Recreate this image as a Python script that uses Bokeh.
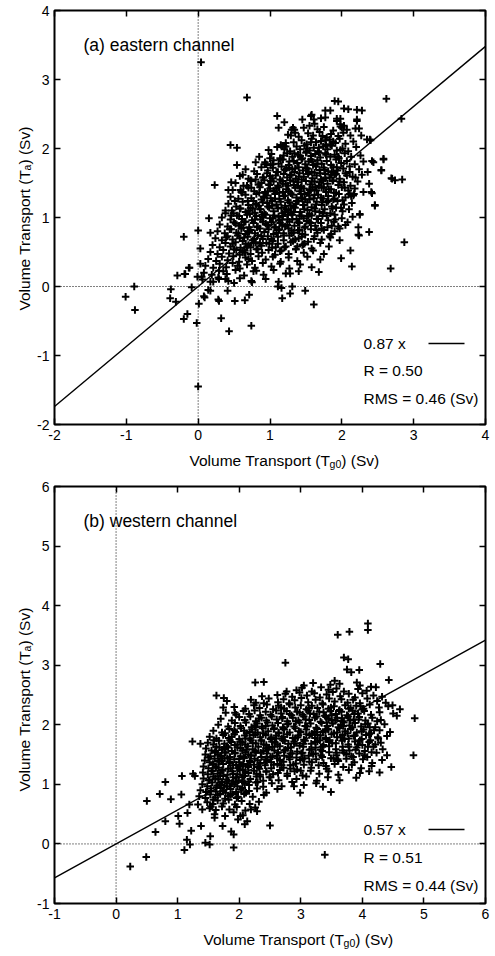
from bokeh.plotting import figure
from bokeh.models import Range1d, LinearAxis, Span, Label, FixedTicker
from bokeh.layouts import column, row
from bokeh.embed import file_html
from bokeh.resources import INLINE

FONT = "Liberation Sans"

# ---------------- data ----------------
panel_titles = ["(a) eastern channel", "(b) western channel"]
fit_slopes = [0.87, 0.57]
fit_r = [0.50, 0.51]
fit_rms = [0.46, 0.44]
x_ticks_a = [-2, -1, 0, 1, 2, 3, 4]
y_ticks_a = [-2, -1, 0, 1, 2, 3, 4]
x_ticks_b = [-1, 0, 1, 2, 3, 4, 5, 6]
y_ticks_b = [-1, 0, 1, 2, 3, 4, 5, 6]

east_outliers = [
    (0.04, 3.25), (0.68, 2.74), (2.62, 2.72), (2.83, 2.43), (1.95, 2.68), (1.84, 2.55), (2.09, 2.57),
    (2.28, 2.55), (1.10, 2.47), (1.12, 2.30), (1.32, 2.30), (1.57, 2.47), (0.45, 2.05), (0.54, 2.01),
    (0.54, 1.76), (0.23, 1.47), (0.46, 1.51), (0.42, 1.40), (0.15, 0.99), (-0.20, 0.72), (0.00, 0.81),
    (0.03, 0.55), (-0.29, 0.16), (-0.13, 0.27), (-0.19, 0.18), (-0.38, -0.04), (-0.39, -0.17), (-0.31, -0.22),
    (-0.89, 0.00), (-1.01, -0.15), (-0.88, -0.34), (-0.20, -0.47), (-0.15, -0.40), (-0.02, -0.53), (0.00, -1.45),
    (0.01, -0.25), (0.08, -0.14), (0.32, -0.46), (0.43, -0.65), (0.29, -0.21), (0.51, -0.21), (0.65, -0.20),
    (0.71, -0.12), (0.74, -0.57), (1.17, -0.17), (1.28, -0.10), (1.31, 0.00), (1.49, -0.06), (1.61, -0.26),
    (1.16, -0.02), (1.11, 0.00), (0.41, -0.06), (0.17, -0.06), (0.21, 0.07), (2.14, 0.29), (1.99, 0.41),
    (2.12, 0.52), (2.68, 0.26), (2.87, 0.64), (2.38, 0.79), (2.24, 0.74), (2.25, 1.05), (2.46, 1.18),
    (2.23, 0.86), (2.70, 1.56), (2.74, 1.54), (2.84, 1.55), (2.55, 1.68), (2.58, 1.84), (2.42, 1.82),
    (2.44, 1.80), (2.38, 1.49), (2.42, 1.35), (2.36, 1.66), (2.40, 2.12), (2.27, 2.19), (2.19, 2.29),
    (1.68, 0.21), (1.28, 0.19), (0.93, 1.80), (1.04, 1.77), (1.17, 2.04), (1.20, 2.03), (1.22, 2.03),
    (1.29, 2.19), (1.34, 2.27), (0.38, 1.06), (0.47, 1.10), (0.59, 1.40), (0.68, 1.46), (0.80, 1.55),
    (0.17, 0.78), (1.90, 2.69), (2.03, 2.58), (2.21, 2.56), (1.77, 2.55), (1.77, 2.45), (1.58, 2.49),
    (1.61, 2.42), (1.93, 2.43), (1.98, 2.43), (2.21, 2.42), (1.98, 2.32), (2.03, 2.33), (2.24, 2.29),
    (2.35, 2.13), (2.39, 2.13), (2.58, 1.85), (2.55, 1.69), (2.69, 1.57), (2.30, 1.37), (2.41, 1.37),
    (2.46, 1.17), (2.17, 1.34), (2.11, 1.34), (2.25, 1.04), (2.23, 0.75), (-0.12, 0.27), (-0.09, -0.01),
    (-0.01, 0.14), (0.05, 0.14), (0.14, -0.05), (0.28, -0.19), (0.74, 0.08), (0.81, 0.23), (0.29, 0.11),
    (0.38, 0.11), (0.03, 0.33), (-0.18, 0.18), (0.09, -0.16),
]

east_core = [
    (1.20, 2.38), (1.45, 2.42), (1.62, 2.36), (1.71, 2.44), (1.93, 2.40), (1.98, 2.35), (2.21, 2.40),
    (1.30, 2.27), (1.55, 2.33), (1.66, 2.28), (1.75, 2.31), (1.88, 2.26), (2.00, 2.30), (2.07, 2.27), (1.47, 2.30),
    (1.25, 2.20), (1.40, 2.17), (1.53, 2.22), (1.60, 2.19), (1.69, 2.24), (1.79, 2.16), (1.85, 2.21), (1.95, 2.18),
    (2.02, 2.23), (2.12, 2.19), (1.35, 2.23), (1.73, 2.18),
    (1.15, 2.05), (1.22, 2.08), (1.44, 2.12), (1.51, 2.06), (1.58, 2.14), (1.64, 2.09), (1.71, 2.11), (1.78, 2.05),
    (1.83, 2.13), (1.91, 2.08), (1.97, 2.14), (2.05, 2.07), (2.16, 2.10), (1.33, 2.09), (1.88, 2.10),
    (0.98, 1.98), (1.10, 2.02), (1.28, 1.96), (1.37, 2.03), (1.42, 1.99), (1.48, 2.04), (1.55, 1.97), (1.61, 2.01),
    (1.67, 1.96), (1.74, 2.03), (1.80, 1.99), (1.86, 2.04), (1.93, 1.97), (2.01, 2.00), (2.09, 1.96), (2.20, 2.02),
    (1.20, 1.99), (1.52, 2.00),
    (0.85, 1.88), (1.02, 1.92), (1.14, 1.86), (1.24, 1.93), (1.31, 1.88), (1.39, 1.91), (1.45, 1.86), (1.50, 1.94),
    (1.57, 1.89), (1.63, 1.92), (1.70, 1.87), (1.77, 1.93), (1.84, 1.88), (1.90, 1.91), (1.96, 1.86), (2.04, 1.93),
    (2.13, 1.88), (2.26, 1.90), (1.19, 1.90), (1.68, 1.94),
    (0.80, 1.80), (0.93, 1.77), (1.05, 1.83), (1.12, 1.78), (1.18, 1.84), (1.26, 1.76), (1.33, 1.82), (1.38, 1.79),
    (1.44, 1.84), (1.49, 1.77), (1.54, 1.81), (1.60, 1.76), (1.66, 1.83), (1.72, 1.78), (1.79, 1.82), (1.85, 1.76),
    (1.92, 1.84), (1.99, 1.79), (2.07, 1.82), (2.18, 1.77), (2.30, 1.81), (1.01, 1.76), (1.57, 1.84),
    (0.66, 1.70), (0.78, 1.67), (0.88, 1.73), (0.97, 1.68), (1.04, 1.72), (1.09, 1.66), (1.16, 1.74), (1.21, 1.69),
    (1.27, 1.72), (1.34, 1.66), (1.40, 1.73), (1.46, 1.68), (1.52, 1.71), (1.58, 1.66), (1.64, 1.74), (1.69, 1.69),
    (1.75, 1.72), (1.81, 1.67), (1.88, 1.73), (1.94, 1.68), (2.02, 1.71), (2.11, 1.66), (2.24, 1.70), (1.31, 1.70),
    (1.86, 1.66),
    (0.58, 1.60), (0.70, 1.56), (0.82, 1.63), (0.90, 1.58), (0.96, 1.64), (1.03, 1.57), (1.08, 1.61), (1.14, 1.55),
    (1.19, 1.63), (1.24, 1.58), (1.30, 1.62), (1.36, 1.56), (1.41, 1.64), (1.47, 1.59), (1.53, 1.63), (1.59, 1.57),
    (1.65, 1.61), (1.71, 1.55), (1.77, 1.63), (1.83, 1.58), (1.90, 1.62), (1.97, 1.56), (2.05, 1.64), (2.15, 1.59),
    (2.28, 1.62), (1.00, 1.60), (1.62, 1.65),
    (0.52, 1.50), (0.63, 1.46), (0.74, 1.53), (0.84, 1.48), (0.92, 1.54), (0.99, 1.47), (1.05, 1.52), (1.11, 1.46),
    (1.17, 1.53), (1.22, 1.49), (1.28, 1.54), (1.33, 1.47), (1.39, 1.51), (1.44, 1.45), (1.50, 1.53), (1.56, 1.48),
    (1.62, 1.52), (1.68, 1.46), (1.74, 1.54), (1.80, 1.49), (1.87, 1.53), (1.95, 1.47), (2.03, 1.51), (2.12, 1.46),
    (2.22, 1.52), (0.88, 1.50), (1.25, 1.46),
    (0.48, 1.40), (0.60, 1.37), (0.70, 1.43), (0.78, 1.38), (0.86, 1.44), (0.93, 1.36), (1.00, 1.42), (1.06, 1.38),
    (1.12, 1.44), (1.18, 1.37), (1.23, 1.41), (1.29, 1.35), (1.35, 1.43), (1.41, 1.38), (1.47, 1.42), (1.53, 1.36),
    (1.59, 1.44), (1.65, 1.39), (1.72, 1.43), (1.78, 1.37), (1.85, 1.41), (1.92, 1.36), (2.00, 1.44), (2.09, 1.39),
    (2.18, 1.42), (0.97, 1.38), (1.55, 1.40),
    (0.45, 1.30), (0.56, 1.27), (0.66, 1.33), (0.74, 1.28), (0.81, 1.34), (0.88, 1.26), (0.95, 1.32), (1.01, 1.28),
    (1.07, 1.34), (1.13, 1.27), (1.19, 1.31), (1.25, 1.25), (1.31, 1.33), (1.37, 1.29), (1.43, 1.34), (1.49, 1.26),
    (1.55, 1.32), (1.61, 1.28), (1.67, 1.33), (1.74, 1.27), (1.81, 1.31), (1.88, 1.26), (1.96, 1.34), (2.05, 1.29),
    (2.16, 1.32), (0.91, 1.30), (1.45, 1.28),
    (0.42, 1.20), (0.53, 1.16), (0.62, 1.23), (0.70, 1.18), (0.77, 1.24), (0.84, 1.17), (0.90, 1.22), (0.97, 1.16),
    (1.03, 1.24), (1.09, 1.19), (1.15, 1.23), (1.21, 1.17), (1.27, 1.22), (1.33, 1.16), (1.39, 1.24), (1.46, 1.18),
    (1.52, 1.22), (1.58, 1.15), (1.65, 1.23), (1.72, 1.18), (1.79, 1.22), (1.86, 1.16), (1.94, 1.24), (2.03, 1.19),
    (2.14, 1.21), (0.80, 1.20), (1.36, 1.20),
    (0.38, 1.10), (0.49, 1.06), (0.58, 1.13), (0.66, 1.08), (0.73, 1.14), (0.79, 1.07), (0.86, 1.12), (0.92, 1.06),
    (0.99, 1.14), (1.05, 1.09), (1.11, 1.13), (1.17, 1.06), (1.23, 1.12), (1.29, 1.07), (1.35, 1.14), (1.42, 1.08),
    (1.48, 1.12), (1.55, 1.05), (1.62, 1.13), (1.69, 1.08), (1.76, 1.12), (1.84, 1.06), (1.92, 1.14), (2.01, 1.09),
    (2.10, 1.12), (0.70, 1.10), (1.26, 1.10),
    (0.33, 1.00), (0.45, 0.97), (0.54, 1.03), (0.61, 0.98), (0.68, 1.04), (0.75, 0.96), (0.81, 1.02), (0.87, 0.97),
    (0.94, 1.04), (1.00, 0.99), (1.06, 1.03), (1.12, 0.96), (1.18, 1.02), (1.24, 0.97), (1.31, 1.04), (1.37, 0.98),
    (1.44, 1.02), (1.51, 0.95), (1.58, 1.03), (1.65, 0.98), (1.73, 1.02), (1.81, 0.96), (1.90, 1.04), (2.00, 0.99),
    (2.15, 1.01), (0.90, 1.00), (1.47, 0.99),
    (0.30, 0.90), (0.41, 0.87), (0.50, 0.93), (0.57, 0.88), (0.64, 0.94), (0.71, 0.86), (0.77, 0.92), (0.83, 0.87),
    (0.90, 0.94), (0.96, 0.89), (1.02, 0.93), (1.08, 0.86), (1.14, 0.92), (1.21, 0.87), (1.27, 0.94), (1.34, 0.88),
    (1.41, 0.92), (1.48, 0.85), (1.55, 0.93), (1.63, 0.88), (1.71, 0.92), (1.80, 0.86), (1.89, 0.94), (2.05, 0.89),
    (0.60, 0.90), (1.17, 0.89), (1.95, 0.87),
    (0.27, 0.80), (0.37, 0.77), (0.46, 0.83), (0.53, 0.78), (0.60, 0.84), (0.66, 0.76), (0.73, 0.82), (0.79, 0.77),
    (0.86, 0.84), (0.92, 0.79), (0.98, 0.83), (1.05, 0.76), (1.12, 0.82), (1.19, 0.77), (1.26, 0.84), (1.33, 0.78),
    (1.41, 0.82), (1.49, 0.75), (1.57, 0.83), (1.66, 0.78), (1.75, 0.82), (1.85, 0.76), (1.97, 0.84), (0.69, 0.80),
    (1.30, 0.81), (1.90, 0.80),
    (0.24, 0.70), (0.33, 0.67), (0.41, 0.73), (0.48, 0.68), (0.55, 0.74), (0.62, 0.66), (0.69, 0.72), (0.76, 0.67),
    (0.83, 0.74), (0.90, 0.69), (0.97, 0.73), (1.04, 0.66), (1.11, 0.72), (1.19, 0.67), (1.27, 0.74), (1.35, 0.68),
    (1.44, 0.72), (1.53, 0.65), (1.62, 0.73), (1.72, 0.68), (1.84, 0.71), (1.97, 0.67), (0.58, 0.70), (1.40, 0.70),
    (0.20, 0.60), (0.30, 0.57), (0.38, 0.63), (0.45, 0.58), (0.52, 0.64), (0.59, 0.56), (0.66, 0.62), (0.73, 0.57),
    (0.80, 0.64), (0.88, 0.59), (0.95, 0.63), (1.03, 0.56), (1.11, 0.62), (1.20, 0.57), (1.29, 0.64), (1.38, 0.58),
    (1.48, 0.62), (1.58, 0.55), (1.70, 0.63), (1.82, 0.58), (0.70, 0.60), (1.45, 0.60),
    (0.17, 0.50), (0.27, 0.47), (0.35, 0.53), (0.43, 0.48), (0.50, 0.54), (0.58, 0.46), (0.65, 0.52), (0.73, 0.47),
    (0.81, 0.54), (0.89, 0.49), (0.98, 0.53), (1.07, 0.46), (1.16, 0.52), (1.26, 0.47), (1.36, 0.54), (1.47, 0.49),
    (1.60, 0.52), (1.75, 0.47), (0.62, 0.50),
    (0.14, 0.40), (0.25, 0.37), (0.33, 0.43), (0.41, 0.38), (0.49, 0.44), (0.57, 0.36), (0.66, 0.42), (0.75, 0.37),
    (0.84, 0.44), (0.94, 0.39), (1.04, 0.43), (1.15, 0.36), (1.26, 0.42), (1.38, 0.37), (1.52, 0.43), (1.70, 0.39),
    (0.70, 0.40),
    (0.10, 0.30), (0.21, 0.27), (0.30, 0.33), (0.39, 0.28), (0.48, 0.34), (0.58, 0.26), (0.68, 0.32), (0.79, 0.27),
    (0.90, 0.34), (1.02, 0.29), (1.14, 0.33), (1.27, 0.26), (1.42, 0.32), (1.58, 0.28), (0.55, 0.30),
    (0.08, 0.20), (0.19, 0.17), (0.29, 0.23), (0.40, 0.18), (0.52, 0.24), (0.64, 0.16), (0.77, 0.22), (0.91, 0.17),
    (1.05, 0.24), (1.22, 0.19), (1.40, 0.22), (0.35, 0.22),
    (0.06, 0.10), (0.17, 0.07), (0.28, 0.13), (0.42, 0.08), (0.58, 0.12), (0.75, 0.06), (0.94, 0.11), (1.12, 0.07),
    (0.50, 0.05),
]

east_core_extra = [
    (0.72, 1.05), (0.81, 1.19), (0.94, 0.91), (1.07, 1.27), (1.13, 0.83), (1.26, 1.38), (1.31, 0.97), (1.44, 1.55),
    (1.52, 1.11), (1.63, 1.44), (1.71, 1.29), (1.85, 1.62), (0.63, 0.85), (0.77, 0.63), (0.85, 1.36), (0.98, 1.48),
    (1.02, 0.69), (1.16, 1.14), (1.22, 0.58), (1.35, 1.71), (1.39, 0.81), (1.48, 1.34), (1.57, 0.92), (1.66, 1.78),
    (1.74, 1.06), (1.82, 1.41), (1.93, 1.73), (2.01, 1.25), (0.56, 0.77), (0.69, 1.24), (0.88, 0.73), (0.91, 1.58),
    (1.04, 0.99), (1.09, 1.42), (1.19, 0.74), (1.28, 1.61), (1.33, 1.08), (1.42, 1.89), (1.55, 1.26), (1.61, 0.69),
    (1.69, 1.51), (1.78, 1.91), (1.87, 1.13), (1.97, 1.52), (0.48, 0.62), (0.59, 1.13), (0.74, 1.43), (0.83, 0.54),
    (0.96, 1.21), (1.11, 1.66), (1.24, 0.89), (1.37, 1.24), (1.46, 0.61), (1.59, 1.81), (1.72, 0.84), (1.89, 1.36),
    (2.07, 1.61), (0.65, 0.49), (0.79, 0.97), (0.87, 1.12), (1.01, 1.53), (1.14, 0.51), (1.29, 1.17), (1.43, 1.43),
    (1.51, 1.96), (1.64, 1.19), (1.77, 1.57), (1.91, 0.97), (2.11, 1.74), (0.52, 0.91), (0.71, 0.79), (0.92, 1.29),
    (1.06, 0.86), (1.18, 1.49), (1.32, 0.66), (1.41, 1.03), (1.54, 1.66), (1.67, 0.98), (1.81, 1.24), (1.95, 1.88),
    (0.61, 1.36), (0.76, 1.13), (0.99, 0.62), (1.12, 1.01), (1.27, 1.81), (1.38, 1.46), (1.49, 0.87), (1.62, 1.33),
    (1.76, 1.69), (1.86, 0.88), (2.04, 1.43), (0.44, 0.83), (0.57, 1.02), (0.68, 0.58), (0.84, 1.48), (1.03, 1.17),
    (1.17, 0.97), (1.23, 1.71), (1.36, 0.54), (1.47, 1.18), (1.58, 1.52), (1.73, 1.22), (1.84, 2.06), (1.99, 1.14),
    (2.19, 1.58), (0.51, 1.24), (0.66, 0.94), (0.82, 0.86), (0.95, 1.77), (1.08, 0.57), (1.21, 1.32), (1.34, 1.93),
    (1.45, 0.76), (1.56, 1.41), (1.68, 2.01), (1.79, 1.03), (1.92, 1.63), (0.39, 0.71), (0.53, 0.53), (0.73, 1.54),
    (0.89, 1.04), (1.05, 1.39), (1.15, 1.84), (1.30, 0.77), (1.40, 1.59), (1.53, 1.02), (1.65, 0.82), (1.75, 1.44),
    (1.90, 1.27), (2.08, 0.93), (0.62, 1.62), (0.78, 0.69), (0.93, 1.37), (1.09, 0.78), (1.20, 1.08), (1.33, 1.52),
    (1.44, 1.27), (1.57, 2.09), (1.70, 1.64), (1.83, 0.73), (1.98, 1.98), (0.46, 1.03), (0.64, 0.71), (0.86, 0.62),
    (1.00, 1.86), (1.13, 1.36), (1.25, 1.04), (1.39, 0.93), (1.50, 1.72), (1.63, 1.09), (1.77, 2.12), (1.88, 1.54),
    (2.13, 1.31),
]

west_outliers = [
    (4.09, 3.70), (4.09, 3.59), (3.79, 3.56), (3.60, 3.51), (3.70, 3.13), (3.77, 3.10), (3.75, 2.93),
    (3.82, 2.88), (3.95, 2.92), (4.29, 3.02), (2.75, 3.04), (2.26, 2.71), (2.40, 2.72), (4.43, 2.75),
    (4.49, 2.33), (4.61, 2.26), (4.56, 2.15), (4.85, 2.11), (4.83, 1.49), (4.47, 1.29), (4.28, 1.20),
    (4.11, 1.22), (3.90, 1.11), (3.49, 0.87), (3.36, 0.96), (3.39, -0.18), (2.89, 0.97), (2.99, 0.86),
    (2.50, 0.31), (1.63, 2.49), (1.75, 2.45), (1.74, 2.29), (1.93, 2.20), (1.24, 1.72), (1.37, 1.68),
    (1.25, 1.18), (1.28, 1.14), (0.80, 1.04), (1.07, 1.14), (0.50, 0.72), (0.71, 0.84), (0.89, 0.75),
    (1.06, 0.83), (0.80, 0.38), (0.64, 0.20), (0.49, -0.22), (0.23, -0.38), (1.11, -0.10), (1.15, 0.07),
    (1.20, -0.01), (1.45, 0.02), (1.52, -0.01), (1.53, 0.13), (1.91, -0.06), (1.87, 0.21), (1.91, 0.16),
    (2.09, 0.33), (2.13, 0.38), (1.03, 0.34), (1.22, 0.22), (1.38, 0.30), (1.73, 0.30), (1.60, 0.44),
    (1.98, 0.41), (2.02, 0.47), (2.29, 0.55), (2.19, 0.58), (1.40, 0.58), (1.54, 0.63), (1.01, 0.47),
    (1.16, 0.52), (1.19, 0.66), (1.33, 0.66),
]

west_core = [
    (3.55, 2.74), (3.63, 2.69), (3.91, 2.71), (3.96, 2.66), (4.14, 2.64), (3.05, 2.66), (3.20, 2.70), (3.48, 2.67),
    (2.93, 2.58), (3.02, 2.62), (3.18, 2.56), (3.33, 2.63), (3.45, 2.59), (3.58, 2.61), (3.70, 2.56), (3.93, 2.60),
    (4.07, 2.57), (4.22, 2.63), (2.77, 2.56),
    (2.37, 2.48), (2.75, 2.52), (2.86, 2.47), (2.98, 2.54), (3.10, 2.49), (3.22, 2.53), (3.31, 2.46), (3.42, 2.51),
    (3.52, 2.55), (3.64, 2.48), (3.78, 2.52), (3.88, 2.46), (4.00, 2.53), (4.18, 2.49), (4.32, 2.47), (2.62, 2.50),
    (1.80, 2.40), (2.19, 2.42), (2.27, 2.37), (2.48, 2.44), (2.63, 2.38), (2.72, 2.43), (2.81, 2.36), (2.90, 2.41),
    (3.01, 2.45), (3.12, 2.38), (3.24, 2.42), (3.35, 2.36), (3.46, 2.44), (3.55, 2.39), (3.66, 2.43), (3.76, 2.37),
    (3.85, 2.42), (3.96, 2.36), (4.08, 2.44), (4.24, 2.40), (4.38, 2.37), (2.40, 2.36),
    (1.92, 2.30), (2.10, 2.27), (2.24, 2.33), (2.33, 2.28), (2.45, 2.34), (2.55, 2.26), (2.64, 2.32), (2.73, 2.27),
    (2.82, 2.34), (2.91, 2.29), (3.00, 2.33), (3.09, 2.26), (3.18, 2.32), (3.27, 2.28), (3.36, 2.34), (3.45, 2.27),
    (3.54, 2.31), (3.63, 2.25), (3.72, 2.33), (3.81, 2.28), (3.90, 2.32), (4.00, 2.26), (4.12, 2.34), (4.27, 2.29),
    (4.42, 2.31), (2.68, 2.29),
    (1.78, 2.20), (1.95, 2.17), (2.07, 2.23), (2.16, 2.18), (2.25, 2.24), (2.34, 2.16), (2.43, 2.22), (2.51, 2.17),
    (2.60, 2.24), (2.68, 2.19), (2.77, 2.23), (2.85, 2.16), (2.94, 2.22), (3.03, 2.17), (3.12, 2.24), (3.21, 2.18),
    (3.30, 2.22), (3.39, 2.15), (3.48, 2.23), (3.57, 2.18), (3.66, 2.22), (3.75, 2.16), (3.84, 2.24), (3.93, 2.19),
    (4.03, 2.23), (4.14, 2.17), (4.28, 2.21), (4.50, 2.19), (2.98, 2.20),
    (1.70, 2.10), (1.88, 2.07), (2.00, 2.13), (2.09, 2.08), (2.18, 2.14), (2.27, 2.06), (2.36, 2.12), (2.44, 2.07),
    (2.53, 2.14), (2.61, 2.09), (2.70, 2.13), (2.78, 2.06), (2.87, 2.12), (2.96, 2.07), (3.05, 2.14), (3.14, 2.08),
    (3.23, 2.12), (3.32, 2.05), (3.41, 2.13), (3.50, 2.08), (3.59, 2.12), (3.68, 2.06), (3.77, 2.14), (3.86, 2.09),
    (3.95, 2.13), (4.05, 2.07), (4.16, 2.12), (4.30, 2.08), (2.32, 2.10), (3.45, 2.10),
    (1.66, 2.00), (1.82, 1.97), (1.93, 2.03), (2.02, 1.98), (2.11, 2.04), (2.20, 1.96), (2.29, 2.02), (2.37, 1.97),
    (2.46, 2.04), (2.54, 1.99), (2.63, 2.03), (2.71, 1.96), (2.80, 2.02), (2.89, 1.97), (2.98, 2.04), (3.07, 1.98),
    (3.16, 2.02), (3.25, 1.95), (3.34, 2.03), (3.43, 1.98), (3.52, 2.02), (3.61, 1.96), (3.70, 2.04), (3.79, 1.99),
    (3.88, 2.03), (3.98, 1.97), (4.09, 2.02), (4.21, 1.96), (4.36, 2.01), (2.25, 1.99), (3.65, 2.00),
    (1.58, 1.90), (1.72, 1.87), (1.84, 1.93), (1.94, 1.88), (2.03, 1.94), (2.12, 1.86), (2.21, 1.92), (2.30, 1.87),
    (2.38, 1.94), (2.47, 1.89), (2.56, 1.93), (2.64, 1.86), (2.73, 1.92), (2.82, 1.87), (2.91, 1.94), (3.00, 1.88),
    (3.09, 1.92), (3.18, 1.85), (3.27, 1.93), (3.36, 1.88), (3.45, 1.92), (3.54, 1.86), (3.63, 1.94), (3.72, 1.89),
    (3.81, 1.93), (3.91, 1.87), (4.02, 1.92), (4.14, 1.86), (4.28, 1.91), (4.45, 1.88), (2.08, 1.90), (3.40, 1.90),
    (1.52, 1.80), (1.63, 1.77), (1.74, 1.83), (1.83, 1.78), (1.92, 1.84), (2.00, 1.76), (2.09, 1.82), (2.17, 1.77),
    (2.26, 1.84), (2.34, 1.79), (2.43, 1.83), (2.51, 1.76), (2.60, 1.82), (2.69, 1.77), (2.78, 1.84), (2.87, 1.78),
    (2.96, 1.82), (3.05, 1.75), (3.14, 1.83), (3.23, 1.78), (3.32, 1.82), (3.41, 1.76), (3.50, 1.84), (3.59, 1.79),
    (3.68, 1.83), (3.78, 1.77), (3.88, 1.82), (3.99, 1.76), (4.11, 1.84), (4.25, 1.79), (4.40, 1.81), (1.88, 1.80),
    (2.72, 1.80),
    (1.49, 1.70), (1.58, 1.67), (1.67, 1.73), (1.76, 1.68), (1.85, 1.74), (1.93, 1.66), (2.02, 1.72), (2.10, 1.67),
    (2.19, 1.74), (2.27, 1.69), (2.36, 1.73), (2.44, 1.66), (2.53, 1.72), (2.62, 1.67), (2.71, 1.74), (2.80, 1.68),
    (2.89, 1.72), (2.98, 1.65), (3.07, 1.73), (3.17, 1.68), (3.27, 1.72), (3.37, 1.66), (3.47, 1.74), (3.57, 1.69),
    (3.67, 1.73), (3.77, 1.67), (3.88, 1.72), (4.00, 1.66), (4.13, 1.74), (4.30, 1.70), (2.05, 1.70), (2.58, 1.70),
    (1.46, 1.60), (1.55, 1.57), (1.63, 1.63), (1.72, 1.58), (1.80, 1.64), (1.88, 1.56), (1.97, 1.62), (2.05, 1.57),
    (2.14, 1.64), (2.22, 1.59), (2.31, 1.63), (2.39, 1.56), (2.48, 1.62), (2.57, 1.57), (2.66, 1.64), (2.75, 1.58),
    (2.84, 1.62), (2.94, 1.55), (3.04, 1.63), (3.14, 1.58), (3.24, 1.62), (3.35, 1.56), (3.46, 1.64), (3.57, 1.59),
    (3.68, 1.63), (3.79, 1.57), (3.91, 1.62), (4.04, 1.56), (4.18, 1.63), (4.33, 1.59), (1.76, 1.61), (2.44, 1.60),
    (1.45, 1.50), (1.53, 1.47), (1.61, 1.53), (1.69, 1.48), (1.77, 1.54), (1.85, 1.46), (1.93, 1.52), (2.02, 1.47),
    (2.10, 1.54), (2.19, 1.49), (2.27, 1.53), (2.36, 1.46), (2.45, 1.52), (2.54, 1.47), (2.63, 1.54), (2.73, 1.48),
    (2.83, 1.52), (2.93, 1.45), (3.03, 1.53), (3.13, 1.48), (3.24, 1.52), (3.35, 1.46), (3.46, 1.54), (3.58, 1.49),
    (3.70, 1.53), (3.82, 1.47), (3.95, 1.52), (4.08, 1.46), (4.23, 1.53), (4.40, 1.49), (1.65, 1.50), (2.15, 1.50),
    (1.44, 1.40), (1.52, 1.37), (1.60, 1.43), (1.68, 1.38), (1.76, 1.44), (1.84, 1.36), (1.92, 1.42), (2.00, 1.37),
    (2.08, 1.44), (2.17, 1.39), (2.25, 1.43), (2.34, 1.36), (2.43, 1.42), (2.52, 1.37), (2.62, 1.44), (2.72, 1.38),
    (2.82, 1.42), (2.92, 1.35), (3.03, 1.43), (3.14, 1.38), (3.25, 1.42), (3.37, 1.36), (3.49, 1.44), (3.61, 1.39),
    (3.74, 1.43), (3.87, 1.37), (4.01, 1.42), (4.16, 1.36), (4.32, 1.41), (1.72, 1.40), (2.30, 1.40),
    (1.42, 1.30), (1.50, 1.27), (1.58, 1.33), (1.66, 1.28), (1.74, 1.34), (1.82, 1.26), (1.90, 1.32), (1.98, 1.27),
    (2.07, 1.34), (2.15, 1.29), (2.24, 1.33), (2.33, 1.26), (2.42, 1.32), (2.52, 1.27), (2.62, 1.34), (2.72, 1.28),
    (2.83, 1.32), (2.94, 1.25), (3.05, 1.33), (3.17, 1.28), (3.29, 1.32), (3.42, 1.26), (3.55, 1.34), (3.69, 1.29),
    (3.83, 1.33), (3.98, 1.27), (4.15, 1.31), (1.62, 1.30), (2.02, 1.31),
    (1.41, 1.20), (1.49, 1.17), (1.57, 1.23), (1.65, 1.18), (1.73, 1.24), (1.81, 1.16), (1.89, 1.22), (1.97, 1.17),
    (2.06, 1.24), (2.15, 1.19), (2.24, 1.23), (2.34, 1.16), (2.44, 1.22), (2.55, 1.17), (2.66, 1.24), (2.78, 1.18),
    (2.90, 1.22), (3.03, 1.15), (3.16, 1.23), (3.30, 1.18), (3.45, 1.22), (3.61, 1.16), (3.78, 1.24), (3.96, 1.19),
    (1.70, 1.20), (2.10, 1.21),
    (1.42, 1.10), (1.50, 1.07), (1.58, 1.13), (1.66, 1.08), (1.74, 1.14), (1.82, 1.06), (1.90, 1.12), (1.99, 1.07),
    (2.08, 1.14), (2.18, 1.09), (2.28, 1.13), (2.39, 1.06), (2.51, 1.12), (2.64, 1.07), (2.78, 1.14), (2.93, 1.09),
    (3.09, 1.13), (3.26, 1.06), (3.44, 1.12), (3.63, 1.07), (1.61, 1.10), (1.95, 1.11),
    (1.40, 1.00), (1.48, 0.97), (1.56, 1.03), (1.64, 0.98), (1.72, 1.04), (1.80, 0.96), (1.88, 1.02), (1.97, 0.97),
    (2.06, 1.04), (2.16, 0.99), (2.27, 1.03), (2.39, 0.96), (2.53, 1.02), (2.69, 0.97), (2.86, 1.04), (3.05, 0.99),
    (3.25, 1.02), (1.68, 1.00), (1.92, 1.00),
    (1.37, 0.90), (1.46, 0.87), (1.54, 0.93), (1.62, 0.88), (1.70, 0.94), (1.78, 0.86), (1.86, 0.92), (1.95, 0.87),
    (2.05, 0.94), (2.16, 0.89), (2.29, 0.93), (2.44, 0.86), (2.62, 0.92), (1.74, 0.90),
    (1.35, 0.80), (1.45, 0.77), (1.53, 0.83), (1.61, 0.78), (1.69, 0.84), (1.77, 0.76), (1.86, 0.82), (1.96, 0.77),
    (2.08, 0.84), (2.22, 0.79), (2.40, 0.82), (1.82, 0.80),
    (1.48, 0.70), (1.57, 0.67), (1.65, 0.73), (1.74, 0.68), (1.83, 0.74), (1.93, 0.66), (2.04, 0.72), (2.17, 0.67),
    (2.32, 0.71),
    (1.52, 0.60), (1.62, 0.57), (1.72, 0.63), (1.84, 0.58), (1.96, 0.62), (2.10, 0.56), (2.26, 0.61),
    (1.60, 0.50), (1.77, 0.47), (1.91, 0.53), (2.06, 0.48),
]

west_core_extra = [
    (1.55, 1.22), (1.63, 0.95), (1.71, 1.47), (1.79, 1.08), (1.87, 1.71), (1.95, 1.33), (2.03, 0.91), (2.12, 1.58),
    (1.58, 0.74), (1.66, 1.39), (1.74, 0.88), (1.82, 1.62), (1.90, 1.18), (1.98, 0.79), (2.07, 1.46), (2.15, 1.05),
    (2.23, 1.83), (2.31, 1.29), (2.40, 1.67), (2.49, 1.12), (2.57, 1.94), (2.66, 1.41), (2.74, 1.73), (2.83, 1.26),
    (2.92, 2.06), (3.01, 1.52), (3.09, 1.84), (3.18, 1.37), (3.26, 2.14), (3.35, 1.63), (3.44, 1.93), (3.53, 1.44),
    (3.62, 2.23), (3.71, 1.76), (3.80, 2.07), (3.89, 1.58), (3.97, 2.31), (4.06, 1.83), (4.15, 1.54), (1.52, 1.07),
    (1.61, 1.56), (1.69, 1.14), (1.77, 1.86), (1.85, 0.97), (1.93, 1.53), (2.01, 1.24), (2.10, 1.77), (2.18, 1.37),
    (2.27, 1.96), (2.35, 1.53), (2.44, 1.21), (2.52, 1.79), (2.61, 1.48), (2.70, 2.11), (2.79, 1.61), (2.88, 1.33),
    (2.97, 1.89), (3.06, 1.44), (3.15, 2.19), (3.24, 1.71), (3.33, 1.49), (3.42, 2.04), (3.51, 1.69), (3.60, 1.42),
    (3.69, 1.98), (3.78, 1.63), (3.87, 2.18), (3.96, 1.74), (4.05, 2.01), (4.19, 1.91), (1.57, 1.34), (1.65, 0.82),
    (1.73, 1.23), (1.81, 1.44), (1.89, 0.84), (1.97, 1.67), (2.05, 1.12), (2.14, 1.31), (2.22, 1.69), (2.30, 1.04),
    (2.39, 1.86), (2.47, 1.59), (2.56, 1.33), (2.64, 1.87), (2.73, 1.57), (2.82, 2.18), (2.90, 1.69), (2.99, 1.41),
    (3.08, 2.09), (3.17, 1.59), (3.27, 1.83), (3.37, 2.21), (3.46, 1.71), (3.56, 2.07), (3.65, 1.79), (3.74, 1.51),
    (3.84, 1.96), (3.93, 1.67), (4.02, 2.27), (4.11, 1.71), (4.24, 2.06), (1.54, 0.89), (1.62, 1.28), (1.70, 0.99),
    (1.78, 1.53), (1.86, 1.27), (1.94, 1.04), (2.02, 1.61), (2.11, 0.86), (2.19, 1.48), (2.28, 1.18), (2.36, 1.74),
    (2.45, 1.39), (2.54, 1.63), (2.63, 1.19), (2.72, 1.93), (2.81, 1.46), (2.91, 1.77), (3.00, 1.23), (3.10, 1.97),
    (3.20, 1.51), (3.31, 1.74), (3.41, 1.31), (3.50, 2.16), (3.59, 1.87), (3.68, 1.57), (3.78, 2.27), (3.86, 1.81),
    (3.99, 1.89), (4.09, 1.63), (4.26, 1.77), (1.50, 1.45), (1.59, 1.74), (1.68, 1.62), (1.76, 0.98), (1.84, 1.38),
    (1.92, 1.91), (2.00, 1.43), (2.09, 1.02), (2.17, 1.88), (2.26, 1.56), (2.34, 1.13), (2.43, 1.98), (2.51, 1.46),
    (2.60, 1.77), (2.69, 1.32), (2.78, 2.01), (2.86, 1.52), (2.95, 1.79), (3.04, 1.68), (3.13, 2.28), (3.22, 1.88),
    (3.32, 1.58), (3.40, 1.78), (3.49, 2.29), (3.58, 1.53), (3.67, 2.11), (3.76, 1.86), (3.85, 1.46), (3.94, 2.09),
    (4.03, 1.49), (4.12, 1.96), (4.21, 1.67),
]

# ---------------- styling helpers ----------------
CHAR_W = {"V": 667, "o": 556, "l": 222, "u": 556, "m": 833, "e": 556, " ": 278, "T": 611, "r": 333,
          "a": 556, "n": 556, "s": 500, "p": 556, "t": 278, "(": 333, ")": 333, "S": 667, "v": 500,
          "g": 556, "0": 556}
MAIN_SIZE = 15.5
SUB_SIZE = 10.5
SUB_DROP = 3
SUB_KERN = 2.0    # tighten the subscript against the preceding "T"
YLAB_W = 34
XLAB_SHIFT = 25   # correction measured from an earlier render of the label strip


def text_width(s, size):
    return sum(CHAR_W.get(c, 556) for c in s) * size / 1000.0


def add_text(p, x, y, text, size, angle=0, baseline="middle"):
    p.add_layout(Label(x=x, y=y, x_units="screen", y_units="screen", text=text,
                       text_font=FONT, text_font_size=f"{size}px", text_color="black",
                       angle=angle, angle_units="deg", text_align="left", text_baseline=baseline))


def add_axis_label(p, x0, y0, pieces, vertical):
    pos = 0.0
    for txt, is_sub in pieces:
        size = SUB_SIZE if is_sub else MAIN_SIZE
        drop = SUB_DROP if is_sub else 0
        if is_sub:
            pos -= SUB_KERN
        if vertical:
            add_text(p, x0 + drop, y0 + pos, txt, size, angle=90)
        else:
            add_text(p, x0 + pos, y0 - drop, txt, size)
        pos += text_width(txt, size)


def blank_fig(width, height):
    f = figure(width=width, height=height, output_backend="svg", toolbar_location=None,
               x_axis_type=None, y_axis_type=None, x_range=Range1d(0, 1), y_range=Range1d(0, 1),
               min_border=0, min_border_left=0, min_border_right=0, min_border_top=0, min_border_bottom=0,
               background_fill_color="white", border_fill_color="white")
    f.grid.visible = False
    f.outline_line_color = None
    return f


def tick_text(v):
    return str(v)   # plain hyphen-minus, as in the reference


def make_panel(points, xr, yr, xticks, yticks, title, slope, r, rms,
               total_h, bottom, xlab_x, xlab_mid, ylab_y, title_y, legend_y):
    xlab_h = bottom - 26
    main_h = total_h - xlab_h
    frame_h = main_h - 10 - 26
    p = figure(width=495 - YLAB_W, height=main_h, output_backend="svg", toolbar_location=None,
               x_range=Range1d(*xr), y_range=Range1d(*yr),
               min_border_left=54 - YLAB_W, min_border_right=10, min_border_top=10, min_border_bottom=26,
               background_fill_color="white", border_fill_color="white")
    p.grid.visible = False
    p.outline_line_color = "black"
    p.outline_line_width = 2

    for ax, ticks in ((p.xaxis[0], xticks), (p.yaxis[0], yticks)):
        ax.ticker = FixedTicker(ticks=ticks)
        ax.major_label_overrides = {t: tick_text(t) for t in ticks}
        ax.axis_line_color = None
        ax.major_tick_in = 6
        ax.major_tick_out = 0
        ax.minor_tick_out = 0
        ax.minor_tick_in = 0
        ax.major_tick_line_width = 1.5
        ax.minor_tick_line_color = None
        ax.axis_label_standoff = 0
        ax.major_label_text_font = FONT
        ax.major_label_text_font_size = "14px"
        ax.major_label_text_color = "black"
        ax.major_label_standoff = 5

    for side, ticks in (("above", xticks), ("right", yticks)):
        ax = LinearAxis(ticker=FixedTicker(ticks=ticks), axis_line_color=None,
                        major_tick_in=6, major_tick_out=0, minor_tick_out=0, minor_tick_in=0,
                        major_tick_line_width=1.5, axis_label_standoff=0,
                        minor_tick_line_color=None, major_label_text_font_size="1px",
                        major_label_standoff=0,
                        major_label_overrides={t: "" for t in ticks})
        p.add_layout(ax, side)

    p.add_layout(Span(location=0, dimension="height", line_color="black", line_width=1, line_dash="1 2"))
    p.add_layout(Span(location=0, dimension="width", line_color="black", line_width=1, line_dash="1 2"))

    xs = [pt[0] for pt in points]
    ys = [pt[1] for pt in points]
    p.scatter(xs, ys, marker="cross", size=7.5, line_color="black", line_width=2)

    p.line([xr[0], xr[1]], [slope * xr[0], slope * xr[1]], line_color="black", line_width=1.4)

    # legend block (text left, line sample right)
    add_text(p, 309, legend_y[0], f"{slope:.2f} x", 15.5)
    add_text(p, 309, legend_y[1], f"R = {r:.2f}", 15.5)
    add_text(p, 309, legend_y[2], f"RMS = {rms:.2f} (Sv)", 15.5)
    fx0, fx1 = 374 / 431, 410 / 431
    fy = legend_y[0] / frame_h
    lx = [xr[0] + fx0 * (xr[1] - xr[0]), xr[0] + fx1 * (xr[1] - xr[0])]
    ly = [yr[0] + fy * (yr[1] - yr[0])] * 2
    p.line(lx, ly, line_color="black", line_width=1.4)

    add_text(p, 29, title_y, title, 17.5)

    # axis titles in their own strips (real text, with subscripts)
    xf = blank_fig(495 - YLAB_W, xlab_h)
    add_axis_label(xf, xlab_x - YLAB_W - XLAB_SHIFT, xlab_mid,
                   [("Volume Transport (T", False), ("g0", True), (") (Sv)", False)], False)
    yf = blank_fig(YLAB_W, total_h)
    add_axis_label(yf, 23.5, ylab_y, [("Volume Transport (T", False), ("a", True), (") (Sv)", False)], True)
    return row(yf, column(p, xf, spacing=0), spacing=0)


panel_a = make_panel(east_outliers + east_core + east_core_extra, (-2, 4), (-2, 4), x_ticks_a, y_ticks_a,
                     panel_titles[0], fit_slopes[0], fit_r[0], fit_rms[0],
                     total_h=476, bottom=52, xlab_x=194, xlab_mid=16, ylab_y=166, title_y=380,
                     legend_y=(81, 54, 26))
panel_b = make_panel(west_outliers + west_core + west_core_extra, (-1, 6), (-1, 6), x_ticks_b, y_ticks_b,
                     panel_titles[1], fit_slopes[1], fit_r[1], fit_rms[1],
                     total_h=480, bottom=53, xlab_x=208, xlab_mid=17, ylab_y=165, title_y=383,
                     legend_y=(74, 46, 18))

layout = column(panel_a, panel_b, spacing=0)
open("out.html", "w").write(file_html(layout, INLINE))
